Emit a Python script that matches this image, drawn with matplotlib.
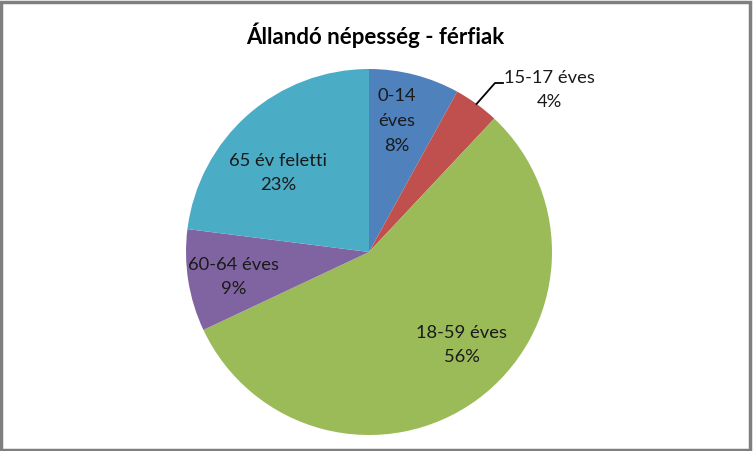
import matplotlib.pyplot as plt
import numpy as np
from matplotlib.patches import Rectangle

title = "Állandó népesség - férfiak"
categories = ["0-14\néves", "15-17 éves", "18-59 éves", "60-64 éves", "65 év feletti"]
shares = [8, 4, 56, 9, 23]
colors = ["#4F81BD", "#C0504D", "#9BBB59", "#8064A2", "#4BACC6"]

plt.rcParams['font.family'] = ['Lato', 'DejaVu Sans']

W, H = 753, 451
fig = plt.figure(figsize=(W / 100, H / 100), dpi=100)
ax = fig.add_axes([0, 0, 1, 1])

cx, cy, r = 369, H - 252, 183
wedges, _ = ax.pie(shares, colors=colors, startangle=90, counterclock=False,
                   center=(cx, cy), radius=r, frame=True,
                   wedgeprops=dict(linewidth=0))
ax.set_xlim(0, W)
ax.set_ylim(0, H)
ax.set_aspect('equal')
ax.axis('off')

# label positions in pixel space (x, y from top)
label_pos = [(397, 121), (549, 90), (462, 345), (234, 277), (278, 173)]
for i, (cat, val) in enumerate(zip(categories, shares)):
    x, y = label_pos[i]
    spacing = 1.72 if i == 0 else 1.6
    ax.text(x, H - y, f"{cat}\n{val}%", ha='center', va='center',
            fontsize=13.2, color='#1a1a1a', linespacing=spacing)

# leader line for the small 15-17 slice
w = wedges[1]
mid = np.deg2rad((w.theta1 + w.theta2) / 2)
ex, ey = cx + r * np.cos(mid), cy + r * np.sin(mid)
ax.plot([ex, 495, 503], [ey, H - 83, H - 83], color='black', lw=1.3)

ax.text(375, H - 35, title, ha='center', va='center', fontsize=16,
        fontweight='bold', color='black')

# outer chart border
fig.patches.append(Rectangle((1 / W, 1.5 / H), 1 - 4 / W, 1 - 3 / H,
                             transform=fig.transFigure, fill=False,
                             edgecolor='#7f7f7f', linewidth=2.5))

fig.savefig("out.png", dpi=100)
